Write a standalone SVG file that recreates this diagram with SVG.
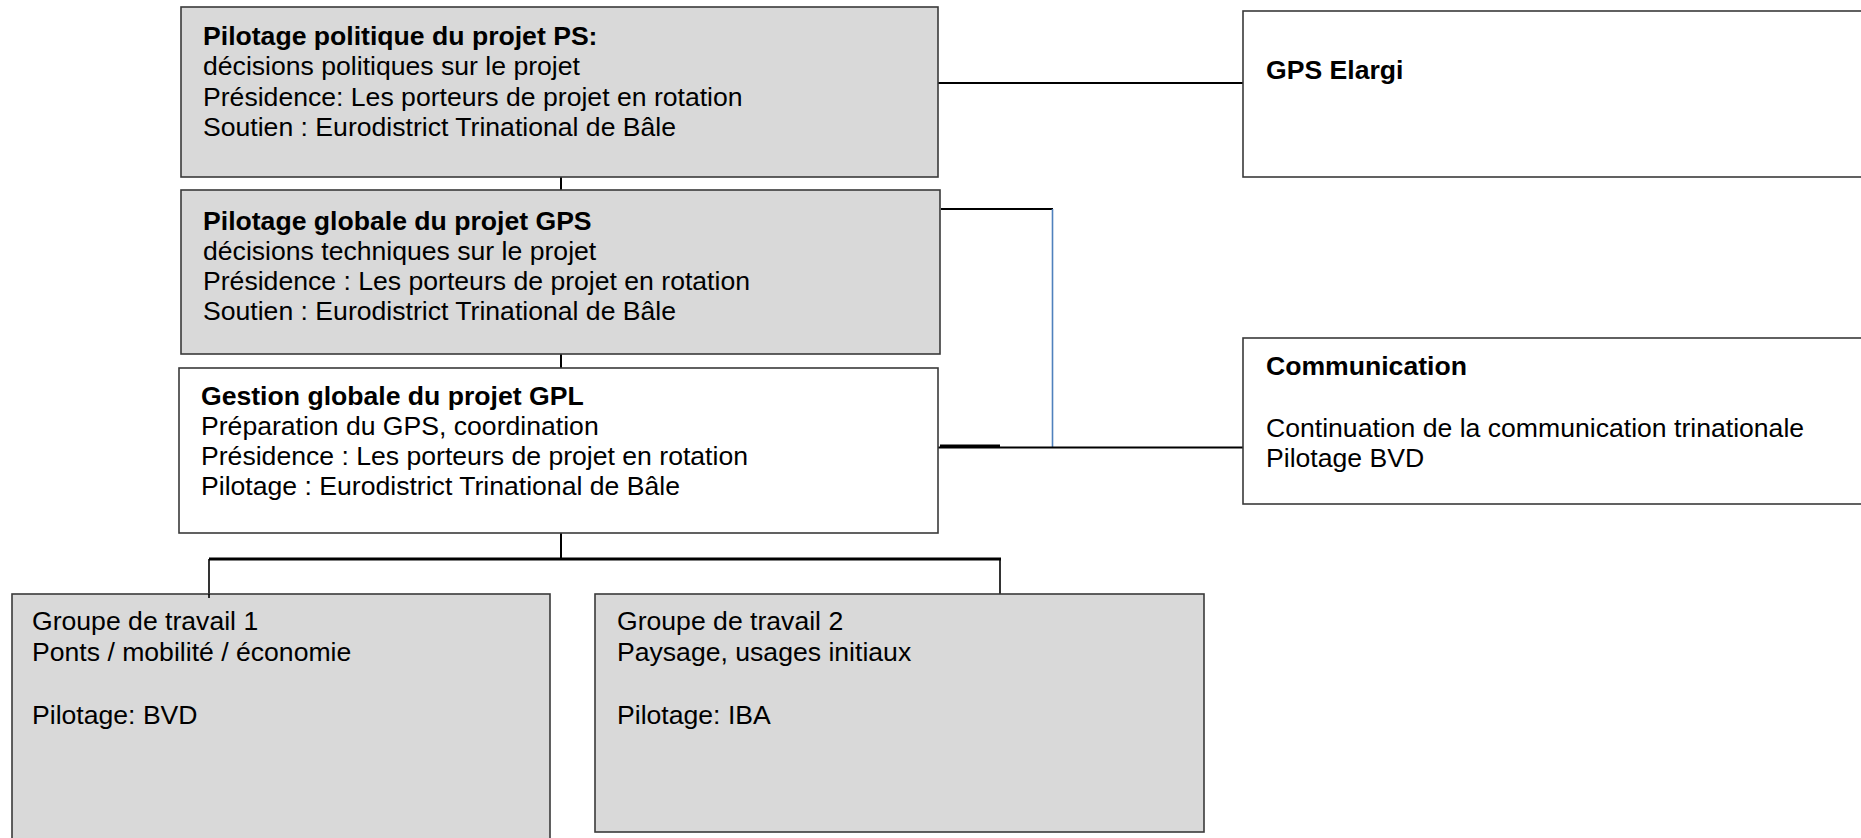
<svg xmlns="http://www.w3.org/2000/svg" width="1861" height="838" viewBox="0 0 1861 838">
<style>
.box{stroke:#3a3a3a;stroke-width:1.6}
.g{fill:#d9d9d9}
.w{fill:#ffffff}
text{font-family:"Liberation Sans",Arial,sans-serif;font-size:26.6px;fill:#000}
.b{font-weight:bold}
.c{stroke:#000;stroke-width:2;fill:none}
.thick{stroke:#000;stroke-width:3.2;fill:none}
.blue{stroke:#4f81bd;stroke-width:1.6;fill:none}
</style>
<rect width="1861" height="838" fill="#fff"/>
<g id="connectors">
<line class="c" x1="561" y1="177" x2="561" y2="190"/>
<line class="c" x1="561" y1="354" x2="561" y2="368"/>
<line class="c" x1="561" y1="533" x2="561" y2="559"/>
<line class="thick" x1="209" y1="559" x2="1001" y2="559"/>
<line class="c" x1="209" y1="559" x2="209" y2="598" style="stroke-width:1.6"/>
<line class="c" x1="1000" y1="559" x2="1000" y2="600" style="stroke-width:1.6"/>
<line class="c" x1="938" y1="83" x2="1243" y2="83"/>
<line class="c" x1="941" y1="209" x2="1053" y2="209"/>
<line class="blue" x1="1052.5" y1="209" x2="1052.5" y2="447"/>
<line class="c" x1="938" y1="447.5" x2="1243" y2="447.5"/>
<line class="thick" x1="940" y1="446" x2="1000" y2="446"/>
</g>
<g id="ps">
<rect class="box g" x="181" y="7" width="757" height="170"/>
<text x="203" y="44.5" class="b">Pilotage politique du projet PS:</text>
<text x="203" y="75">décisions politiques sur le projet</text>
<text x="203" y="105.5">Présidence: Les porteurs de projet en rotation</text>
<text x="203" y="136">Soutien : Eurodistrict Trinational de Bâle</text>
</g>
<g id="gps">
<rect class="box g" x="181" y="190" width="759" height="164"/>
<text x="203" y="229.5" class="b">Pilotage globale du projet GPS</text>
<text x="203" y="259.5">décisions techniques sur le projet</text>
<text x="203" y="289.5">Présidence : Les porteurs de projet en rotation</text>
<text x="203" y="319.5">Soutien : Eurodistrict Trinational de Bâle</text>
</g>
<g id="gpl">
<rect class="box w" x="179" y="368" width="759" height="165"/>
<text x="201" y="405" class="b">Gestion globale du projet GPL</text>
<text x="201" y="435">Préparation du GPS, coordination</text>
<text x="201" y="465">Présidence : Les porteurs de projet en rotation</text>
<text x="201" y="495">Pilotage : Eurodistrict Trinational de Bâle</text>
</g>
<g id="gps-elargi">
<rect class="box w" x="1243" y="11" width="640" height="166"/>
<text x="1266" y="78.5" class="b">GPS Elargi</text>
</g>
<g id="communication">
<rect class="box w" x="1243" y="338" width="640" height="166"/>
<text x="1266" y="374.5" class="b">Communication</text>
<text x="1266" y="436.5">Continuation de la communication trinationale</text>
<text x="1266" y="466.5">Pilotage BVD</text>
</g>
<g id="groupe1">
<rect class="box g" x="12" y="594" width="538" height="260"/>
<text x="32" y="629.5">Groupe de travail 1</text>
<text x="32" y="661">Ponts / mobilité / économie</text>
<text x="32" y="724">Pilotage: BVD</text>
</g>
<g id="groupe2">
<rect class="box g" x="595" y="594" width="609" height="238"/>
<text x="617" y="629.5">Groupe de travail 2</text>
<text x="617" y="661">Paysage, usages initiaux</text>
<text x="617" y="724">Pilotage: IBA</text>
</g>
<line class="c" x1="209" y1="594" x2="209" y2="598" style="stroke-width:1.6"/>
</svg>
